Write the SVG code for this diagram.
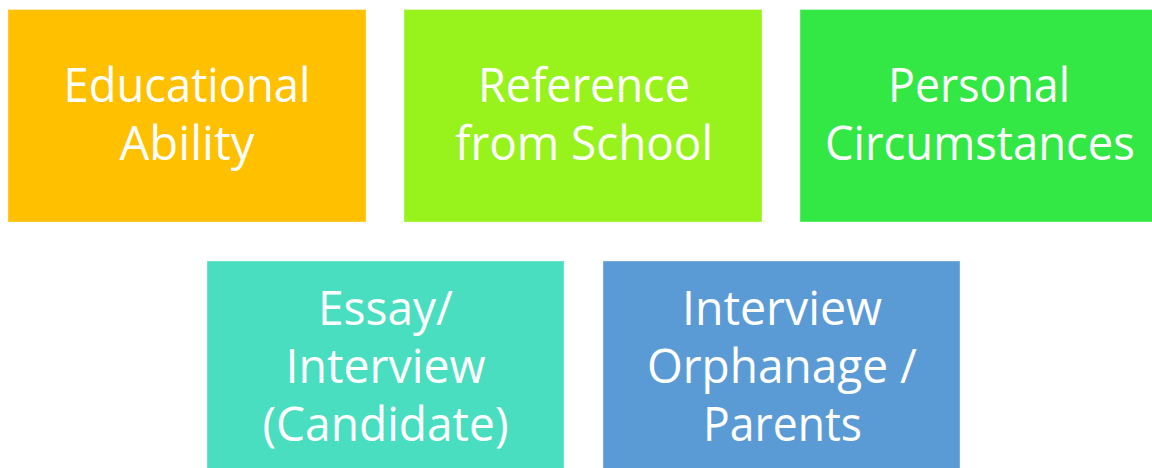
<svg xmlns="http://www.w3.org/2000/svg" width="1152" height="468" viewBox="0 0 1152 468">
<style>
.box{stroke:#ffffff;stroke-opacity:0.35;stroke-width:1}
.t{font-family:"Open Sans","Liberation Sans",sans-serif;font-size:47px;fill:#ffffff;text-anchor:middle}
</style>
<rect width="1152" height="468" fill="#ffffff"/>
<g id="n1">
<rect class="box" x="8" y="9.5" width="358" height="212.5" fill="#FFC000"/>
<text class="t" x="187" y="102" textLength="247" lengthAdjust="spacingAndGlyphs">Educational</text>
<text class="t" x="187" y="160" textLength="135" lengthAdjust="spacingAndGlyphs">Ability</text>
</g>
<g id="n2">
<rect class="box" x="404" y="9.5" width="358" height="212.5" fill="#97F31B"/>
<text class="t" x="584" y="102" textLength="212" lengthAdjust="spacingAndGlyphs">Reference</text>
<text class="t" x="584" y="160" textLength="258" lengthAdjust="spacingAndGlyphs">from School</text>
</g>
<g id="n3">
<rect class="box" x="800" y="9.5" width="358" height="212.5" fill="#33E844"/>
<text class="t" x="979" y="102" textLength="182" lengthAdjust="spacingAndGlyphs">Personal</text>
<text class="t" x="980" y="160" textLength="310" lengthAdjust="spacingAndGlyphs">Circumstances</text>
</g>
<g id="n4">
<rect class="box" x="207" y="261" width="357" height="212" fill="#4ADEC0"/>
<text class="t" x="385.5" y="325" textLength="135" lengthAdjust="spacingAndGlyphs">Essay/</text>
<text class="t" x="385.5" y="383" textLength="200" lengthAdjust="spacingAndGlyphs">Interview</text>
<text class="t" x="385.5" y="441" textLength="246" lengthAdjust="spacingAndGlyphs">(Candidate)</text>
</g>
<g id="n5">
<rect class="box" x="603" y="261" width="357" height="212" fill="#5B9BD5"/>
<text class="t" x="782" y="325" textLength="200" lengthAdjust="spacingAndGlyphs">Interview</text>
<text class="t" x="782" y="383" textLength="270" lengthAdjust="spacingAndGlyphs">Orphanage /</text>
<text class="t" x="782.5" y="441" textLength="159" lengthAdjust="spacingAndGlyphs">Parents</text>
</g>
<g id="connectors"></g>
</svg>
